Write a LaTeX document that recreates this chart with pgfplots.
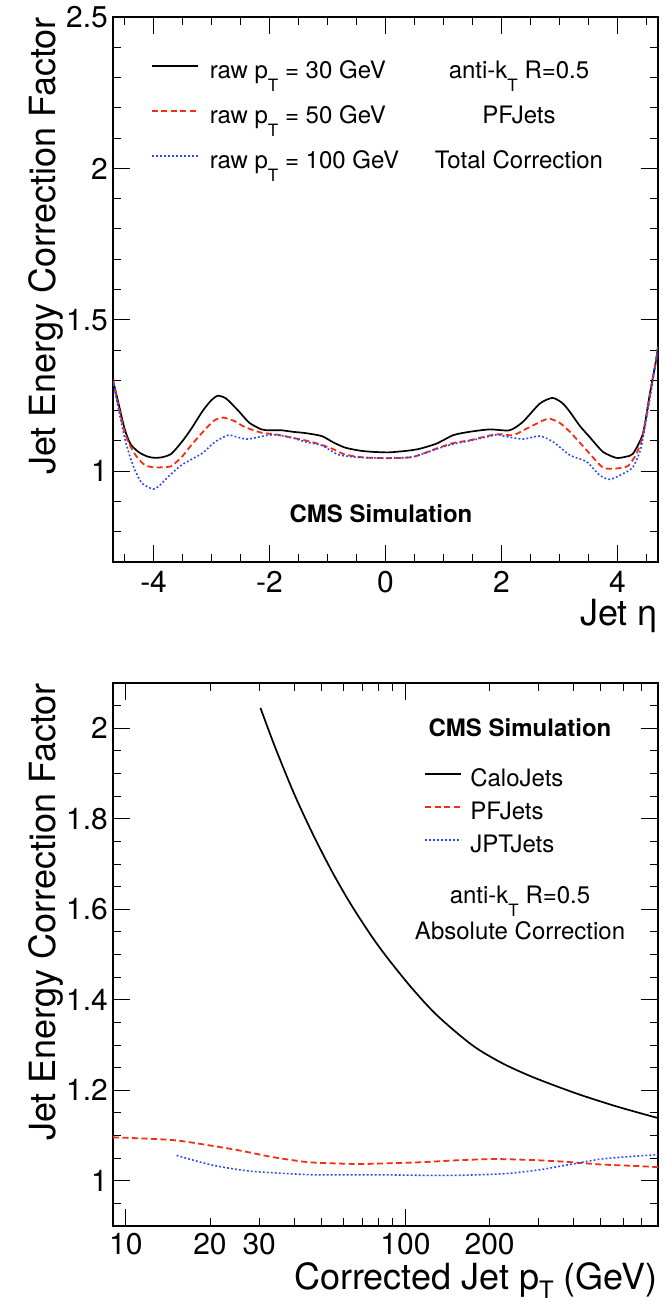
\documentclass[border=0pt]{standalone}
\usepackage{fontspec}
\setmainfont{TeX Gyre Heros}
\usepackage{graphicx}
\usepackage{pgfplots}
\pgfplotsset{compat=1.18}

\definecolor{rootred}{RGB}{245,45,20}
\definecolor{rootblue}{RGB}{40,70,255}

\newcommand\fs[1]{\fontsize{#1}{#1}\selectfont}
\newcommand\subT[2]{\raisebox{-#2}{\fs{#1}T}}

\pgfplotsset{
  rootaxis/.style={
    scale only axis, width=545pt,
    axis line style={line width=1.3pt},
    tick align=inside,
    major tick length=17pt, minor tick length=8pt,
    every tick/.style={black, line width=0.9pt},
    tick label style={font=\fs{30pt}},
    x tick label style={anchor=base, yshift=-30pt, inner sep=0pt},
    y tick label style={anchor=east, inner sep=0pt, xshift=-5pt},
    label style={font=\fs{36pt}, inner sep=0pt},
    legend cell align=left,
  },
  blk/.style={black, line width=1.7pt},
  rd/.style={rootred, line width=1.8pt, dash pattern=on 6pt off 3.5pt},
  bl/.style={rootblue, line width=1.6pt, dash pattern=on 1.8pt off 2.2pt},
}

\begin{document}
\begin{tikzpicture}
\useasboundingbox (0,0) rectangle (662pt,-1306pt);

% ---------------- top panel ----------------
\begin{axis}[rootaxis,
  at={(113pt,-562pt)}, anchor=south west, height=545pt,
  xmin=-4.7, xmax=4.7, ymin=0.7, ymax=2.5,
  xtick={-4,-2,0,2,4}, xticklabels={-4,-2,0,2,4},
  minor xtick={-4.5,-3.5,-3,-2.5,-1.5,-1,-0.5,0.5,1,1.5,2.5,3,3.5,4.5},
  ytick={1,1.5,2,2.5}, yticklabels={1,1.5,2,2.5},
  minor ytick={0.8,0.9,1.1,1.2,1.3,1.4,1.6,1.7,1.8,1.9,2.1,2.2,2.3,2.4},
  xlabel={Jet η},
  ylabel={Jet Energy Correction Factor},
  xlabel style={at={(axis description cs:1,-0.1174)}, anchor=base east},
  ylabel style={at={(axis description cs:-0.1064,1)}, anchor=base east},
  legend style={at={(axis description cs:0.0697,0.9211)}, anchor=north west,
    draw=none, fill=none, inner sep=0pt, outer sep=0pt, font=\fs{24pt},
    row sep=19pt, column sep=11pt,
    nodes={inner sep=0pt, text height=18pt, text depth=8pt}},
  legend image code/.code={\draw[#1] (0pt,7pt) -- (46pt,7pt);},
]
\addplot[blk, smooth, tension=0.4] coordinates {
(-4.70,1.30) (-4.60,1.22) (-4.50,1.14) (-4.40,1.09) (-4.25,1.062) (-4.10,1.048)
(-3.98,1.044) (-3.85,1.046) (-3.69,1.058) (-3.50,1.10) (-3.35,1.14) (-3.15,1.20)
(-3.00,1.235) (-2.89,1.249) (-2.75,1.24) (-2.54,1.20) (-2.35,1.16) (-2.14,1.138)
(-2.00,1.135) (-1.79,1.135) (-1.60,1.13) (-1.39,1.126) (-1.10,1.116) (-0.90,1.095)
(-0.70,1.078) (-0.45,1.068) (-0.24,1.064) (0.04,1.062) (0.19,1.064) (0.40,1.068)
(0.59,1.074) (0.88,1.091) (1.17,1.119) (1.45,1.130) (1.80,1.138) (2.14,1.135)
(2.37,1.163) (2.66,1.223) (2.88,1.242) (3.05,1.225) (3.18,1.196) (3.35,1.15)
(3.52,1.113) (3.75,1.064) (3.98,1.044) (4.15,1.048) (4.27,1.058) (4.44,1.124)
(4.56,1.256) (4.67,1.37) (4.70,1.41)};
\addlegendentry{raw p\subT{17pt}{13pt} = 30 GeV}
\addplot[rd, smooth, tension=0.4] coordinates {
(-4.70,1.30) (-4.60,1.21) (-4.50,1.13) (-4.42,1.09) (-4.30,1.05) (-4.15,1.02)
(-3.98,1.012) (-3.85,1.013) (-3.69,1.017) (-3.50,1.05) (-3.35,1.086) (-3.10,1.14)
(-2.95,1.168) (-2.80,1.177) (-2.60,1.165) (-2.43,1.146) (-2.14,1.127) (-1.91,1.122)
(-1.65,1.112) (-1.39,1.102) (-1.15,1.09) (-0.93,1.075) (-0.70,1.055) (-0.45,1.047)
(-0.24,1.044) (0.04,1.043) (0.47,1.047) (0.88,1.075) (1.17,1.093) (1.45,1.102)
(1.91,1.122) (2.20,1.119) (2.49,1.146) (2.80,1.173) (3.00,1.16) (3.18,1.130)
(3.47,1.069) (3.75,1.012) (3.98,1.009) (4.18,1.017) (4.33,1.058) (4.44,1.12)
(4.56,1.25) (4.67,1.37) (4.70,1.41)};
\addlegendentry{raw p\subT{17pt}{13pt} = 50 GeV}
\addplot[bl, smooth, tension=0.4] coordinates {
(-4.70,1.30) (-4.60,1.20) (-4.50,1.11) (-4.41,1.05) (-4.32,1.003) (-4.20,0.96)
(-4.01,0.941) (-3.90,0.952) (-3.81,0.970) (-3.52,1.020) (-3.17,1.058) (-2.94,1.097)
(-2.71,1.119) (-2.55,1.112) (-2.37,1.106) (-2.02,1.119) (-1.85,1.119) (-1.60,1.11)
(-1.39,1.097) (-1.10,1.085) (-0.82,1.055) (-0.50,1.046) (-0.24,1.044) (0.04,1.043)
(0.47,1.047) (0.88,1.073) (1.17,1.09) (1.45,1.10) (1.91,1.12) (2.03,1.116)
(2.37,1.106) (2.66,1.116) (2.89,1.097) (3.18,1.053) (3.47,1.031) (3.69,0.987)
(3.87,0.973) (4.10,0.992) (4.27,1.014) (4.41,1.080) (4.56,1.24) (4.67,1.37) (4.70,1.41)};
\addlegendentry{raw p\subT{17pt}{13pt} = 100 GeV}
\end{axis}

\node[font=\fs{24pt}, anchor=base] at (519pt,-78pt) {anti-k\subT{17pt}{13pt} R=0.5};
\node[font=\fs{24pt}, anchor=base] at (519pt,-123pt) {PFJets};
\node[font=\fs{24pt}, anchor=base] at (519pt,-168pt) {Total Correction};
\node[font=\bfseries\fs{24pt}, anchor=base] at (381pt,-522.7pt) {CMS Simulation};

% ---------------- bottom panel ----------------
\begin{axis}[rootaxis,
  at={(113pt,-1226pt)}, anchor=south west, height=543pt,
  xmode=log, xmin=9, xmax=800, ymin=0.9, ymax=2.1,
  x tick label style={yshift=2pt},
  xtick={10,100}, xticklabels={10,100},
  minor xtick={20,30,40,50,60,70,80,90,200,300,400,500,600,700,800},
  extra x ticks={20,30,200}, extra x tick labels={20,30,200},
  extra x tick style={major tick length=8pt},
  ytick={1,1.2,1.4,1.6,1.8,2}, yticklabels={1,1.2,1.4,1.6,1.8,2},
  minor ytick={0.95,1.05,1.1,1.15,1.25,1.3,1.35,1.45,1.5,1.55,1.65,1.7,1.75,1.85,1.9,1.95,2.05},
  xlabel={Corrected Jet p\subT{24pt}{9pt} (GeV)},
  ylabel={Jet Energy Correction Factor},
  xlabel style={at={(axis description cs:1,-0.1160)}, anchor=base east},
  ylabel style={at={(axis description cs:-0.1064,1)}, anchor=base east},
  legend style={at={(axis description cs:0.5716,0.8422)}, anchor=north west,
    draw=none, fill=none, inner sep=0pt, outer sep=0pt, font=\fs{24pt},
    row sep=7pt, column sep=8pt,
    nodes={inner sep=0pt, text height=18pt, text depth=8pt}},
  legend image code/.code={\draw[#1] (0pt,8pt) -- (36pt,8pt);},
]
\addplot[blk, smooth, tension=0.5] coordinates {
(30.3,2.045) (34,1.962) (38.7,1.876) (42.2,1.823) (47.6,1.755) (55,1.680) (63.8,1.611)
(75,1.544) (85.6,1.495) (105,1.427) (130,1.365) (173,1.300) (220,1.261) (278,1.232)
(350,1.208) (431,1.188) (550,1.167) (650,1.154) (806,1.138)};
\addlegendentry{CaloJets}
\addplot[rd, smooth, tension=0.4] coordinates {
(9,1.096) (10,1.095) (12,1.093) (14.7,1.09) (17,1.085) (20,1.078) (24,1.07) (28,1.062)
(33,1.053) (38,1.047) (45,1.041) (55,1.0385) (70,1.037) (90,1.039) (115,1.041)
(150,1.045) (206,1.048) (280,1.046) (372,1.042) (500,1.036) (650,1.033) (806,1.030)};
\addlegendentry{PFJets}
\addplot[bl, smooth, tension=0.4] coordinates {
(15.2,1.056) (18.5,1.041) (21,1.033) (24.4,1.026) (28,1.021) (32,1.0185) (40,1.015)
(48.5,1.013) (65,1.013) (85,1.013) (120,1.012) (154,1.012) (200,1.014) (240,1.017)
(300,1.024) (372,1.034) (430,1.041) (500,1.048) (650,1.054) (806,1.058)};
\addlegendentry{JPTJets}
\end{axis}

\node[font=\bfseries\fs{24pt}, anchor=base] at (520pt,-736.7pt) {CMS Simulation};
\node[font=\fs{24pt}, anchor=base] at (520pt,-903pt) {anti-k\subT{17pt}{13pt} R=0.5};
\node[font=\fs{24pt}, anchor=base] at (520pt,-939pt) {Absolute Correction};
\end{tikzpicture}
\end{document}
